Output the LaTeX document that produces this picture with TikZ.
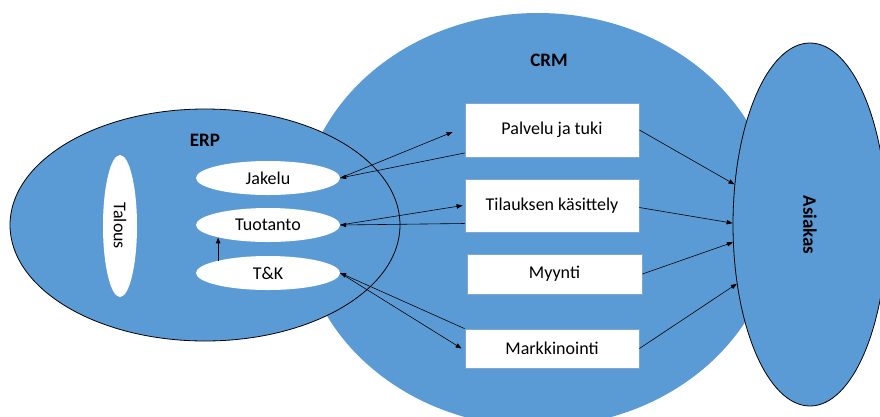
\documentclass[tikz,border=0pt]{standalone}
\usepackage{fontspec}
\setmainfont{Carlito}
\usetikzlibrary{shapes.geometric,arrows.meta}
\definecolor{fillblue}{HTML}{5B9BD5}
\definecolor{boxedge}{HTML}{7FA7D4}
\begin{document}
\begin{tikzpicture}[x=1pt,y=-1pt,
  blob/.style={ellipse, fill=fillblue, inner sep=0pt, line width=0.8pt},
  pill/.style={ellipse, fill=white, inner sep=0pt, font=\fontsize{18}{20}\selectfont},
  card/.style={rectangle, fill=white, draw=boxedge, line width=0.8pt, inner sep=0pt,
    font=\fontsize{18}{20}\selectfont},
  heading/.style={font=\bfseries\fontsize{19}{21}\selectfont},
  link/.style={-{Triangle[length=6pt,width=4.5pt]}, line width=0.6pt}]
\useasboundingbox (0,0) rectangle (880,416);
\clip (0,0) rectangle (880,416);

% system areas
\node[blob, minimum width=476pt, minimum height=414pt] (crm) at (538,220) {};
\node[blob, draw=black, minimum width=390pt, minimum height=232pt] (erp) at (205,225) {};
\node[blob, draw=black, minimum width=154pt, minimum height=363pt] (asiakas) at (810,224.5) {};

\node[heading] (erplabel) at (205,140) {ERP};
\node[heading] (crmlabel) at (549,60) {CRM};
\node[heading, rotate=-90] (asiakaslabel) at (810,225) {Asiakas};

% ERP functions
\node[pill, rotate=-90, minimum width=142pt, minimum height=34pt] (talous) at (120,226) {Talous};
\node[pill, minimum width=144pt, minimum height=34pt] (jakelu) at (268,178) {Jakelu};
\node[pill, minimum width=144pt, minimum height=34pt] (tuotanto) at (268,225) {Tuotanto};
\node[pill, minimum width=144pt, minimum height=34pt] (tk) at (268,273) {T\&K};

% CRM functions
\node[card, minimum width=174pt, minimum height=54pt] (palvelu) at (552,130) {Palvelu ja tuki};
\node[card, minimum width=174pt, minimum height=53pt] (tilaus) at (552,205.5) {Tilauksen käsittely};
\node[card, minimum width=175pt, minimum height=40pt] (myynti) at (554.5,274) {Myynti};
\node[card, minimum width=174pt, minimum height=39pt] (mark) at (552,348.5) {Markkinointi};

% internal flow
\draw[link, line width=1.1pt] (tk.166) -- (tk.166 |- tuotanto.194);

% ERP <-> CRM
\draw[link] (jakelu.east) -- ([xshift=-12pt,yshift=-2pt]palvelu.west);
\draw[link] ([yshift=-23pt]palvelu.west) -- (jakelu.east);
\draw[link] (tuotanto.east) -- ([xshift=-2pt]tilaus.west);
\draw[link] ([yshift=-18pt]tilaus.west) -- (tuotanto.east);
\draw[link] (tk.east) -- ([xshift=-3pt]mark.west);
\draw[link] (mark.north west) -- (tk.east);

% CRM -> customer
\draw[link] (palvelu.east) -- (asiakas.152);
\draw[link] ([yshift=-2pt]tilaus.east) -- (asiakas.179);
\draw[link] (myynti.east) -- (asiakas.193);
\draw[link] (mark.east) -- (asiakas.219);
\end{tikzpicture}
\end{document}
